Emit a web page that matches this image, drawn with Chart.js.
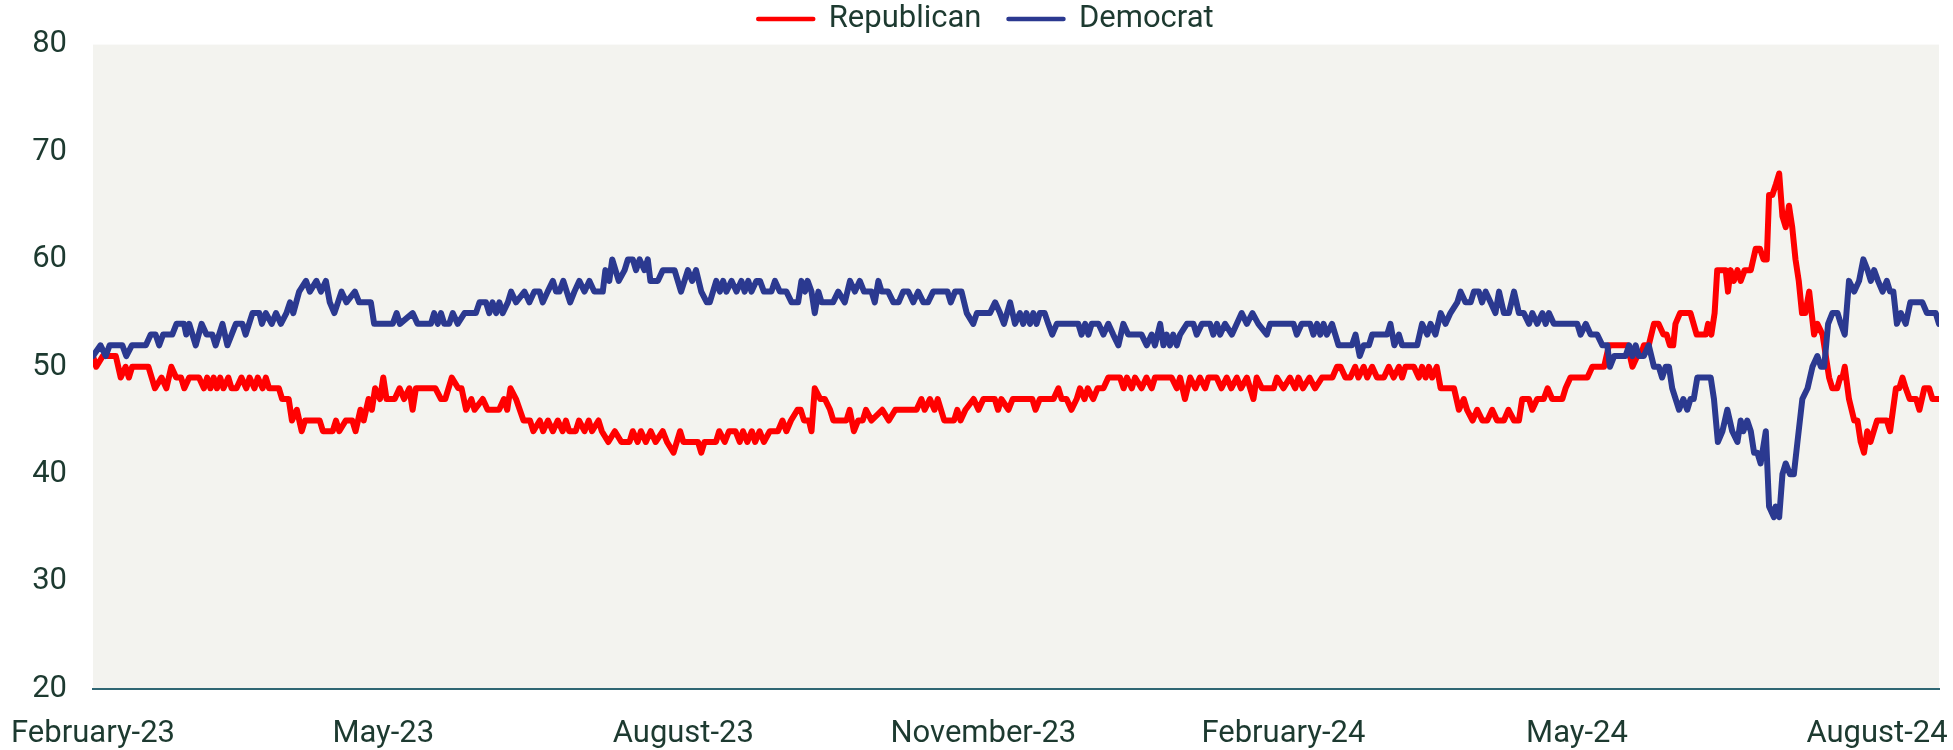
<!DOCTYPE html>
<html>
<head>
<meta charset="utf-8">
<script src="https://cdn.jsdelivr.net/npm/chart.js@4.4.1/dist/chart.umd.min.js"></script>
<style>
  html, body { margin: 0; padding: 0; background: #ffffff; }
  #wrap { width: 1953px; height: 750px; }
</style>
</head>
<body>
<div id="wrap"><canvas id="c" width="1953" height="750"></canvas></div>
<script>
// Days are counted from 1 February 2023 (day 0) to 20 August 2024 (day 566)
const xTickDays = [0, 89, 181, 273, 365, 455, 547];
const xTickLabels = ['February-23', 'May-23', 'August-23', 'November-23', 'February-24', 'May-24', 'August-24'];
const seriesNames = ['Republican', 'Democrat'];

// [day, value]
const republican = [
[0,51],[1,50],[3,51],[7,51],[8.5,49],[10,50],[11,49],[12,50],[17,50],[18,49],[19,48],[21,49],[22.5,48],[24,50],[25.5,49],[27,49],[28,48],[29.5,49],[32.5,49],[34,48],[35,49],[36,48],[37,49],[38,48],[39,49],[40,48],[41.5,49],[42.5,48],[44,48],[45.5,49],[47,48],[48,49],[49.5,48],[50.5,49],[52,48],[53,49],[54,48],[57,48],[58,47],[60,47],[61,45],[62.5,46],[64,44],[65,45],[69.5,45],[70.5,44],[73.5,44],[74.5,45],[75.5,44],[77.5,45],[79.5,45],[80.5,44],[82,46],[83,45],[84.5,47],[85.5,46],[86.5,48],[88,47],[89,49],[90,47],[92.5,47],[94,48],[95.4,47],[97,48],[98,46],[99,48],[105,48],[106.7,47],[108,47],[110,49],[112,48],[113,48],[114.4,46],[116,47],[117,46],[119.5,47],[121,46],[124.5,46],[126,47],[127,46],[128,48],[129.7,47],[132,45],[134,45],[135,44],[137,45],[138,44],[139.5,45],[141,44],[142.5,45],[144,44],[145,45],[146,44],[148,44],[149,45],[150.7,44],[152,45],[153,44],[155,45],[156,44],[158,43],[160,44],[162,43],[164.5,43],[165.5,44],[167,43],[168,44],[169.5,43],[171,44],[172.5,43],[174.7,44],[176,43],[178,42],[179,43],[180,44],[181,43],[185.5,43],[186.5,42],[187.5,43],[191,43],[192,44],[193.7,43],[195,44],[197,44],[198.3,43],[199.3,44],[200.6,43],[202,44],[203,43],[204.4,44],[205.7,43],[207.5,44],[210,44],[211.4,45],[212.6,44],[214,45],[216,46],[217,46],[218,45],[219.5,45],[220.3,44],[221.3,48],[223,47],[224.4,47],[226,46],[227,45],[231,45],[232,46],[233.3,44],[234.6,45],[236,45],[237,46],[238.7,45],[242,46],[244,45],[246,46],[252.5,46],[254,47],[255,46],[256.6,47],[258,46],[259,47],[261,45],[264,45],[265,46],[266,45],[267.5,46],[270,47],[271.5,46],[273,47],[276.5,47],[277.5,46],[278.5,47],[280.7,46],[282,47],[288,47],[289,46],[290.3,47],[294.5,47],[296,48],[297,47],[298.5,47],[300,46],[301.6,47],[302.6,48],[304,47],[305,48],[306.7,47],[308,48],[309.8,48],[311.3,49],[314.9,49],[316,48],[317,49],[318.5,48],[319.5,49],[321.5,48],[323,49],[324.6,48],[325.6,49],[330.7,49],[332.3,48],[333.3,49],[334.8,47],[336.4,49],[338,48],[339.4,49],[341,48],[342,49],[344.5,49],[346,48],[347.6,49],[349,48],[350.7,49],[352,48],[353.8,49],[355.8,47],[356.8,49],[358.4,48],[362,48],[363,49],[365,48],[367,49],[368.6,48],[369.6,49],[371,48],[373,49],[374.7,48],[376.8,49],[380,49],[381.4,50],[382.5,50],[384,49],[385.5,49],[387,50],[388,49],[389.6,50],[390.7,49],[392.2,50],[393.7,49],[395.8,49],[397.3,50],[398.8,49],[400.4,50],[401.4,49],[402.4,50],[405,50],[406.5,49],[407.5,50],[408.6,49],[409.6,50],[410.6,49],[412,50],[413.2,48],[417.3,48],[418.8,46],[420.3,47],[421.3,46],[423,45],[424.4,46],[426,45],[427.5,45],[429,46],[430.5,45],[432.6,45],[434,46],[435.7,45],[437.2,45],[438.2,47],[440.3,47],[441.3,46],[442.8,47],[444.8,47],[446,48],[447.4,47],[450.5,47],[451.5,48],[453,49],[458.2,49],[459.7,50],[463.3,50],[464.8,52],[470.5,52],[472,50],[473.5,51],[474.5,51],[475.5,52],[477,52],[478.6,54],[480,54],[481.5,53],[482.5,53],[483.5,52],[484.5,52],[485.2,54],[486.6,55],[489.8,55],[491.7,53],[494.5,53],[495.2,54],[496.2,53],[497.2,55],[498,59],[500.6,59],[501.3,57],[502.1,59],[503.1,58],[504.2,59],[505.2,58],[506.4,59],[508.3,59],[509.8,61],[511.1,61],[512.2,60],[513.2,60],[513.9,66],[514.9,66],[516,67],[517,68],[518,64],[519,63],[520,65],[521,63],[522,60],[523,58],[524,55],[525,55],[526.2,57],[527.7,53],[528.7,54],[530.3,53],[531.3,51],[532.3,49],[533.3,48],[534.8,48],[535.7,49],[536.4,49],[537.1,50],[538.4,47],[540,45],[541,45],[542,43],[543,42],[544,44],[545,43],[547,45],[550,45],[551,44],[552.8,48],[553.8,48],[554.8,49],[555.8,48],[557,47],[559,47],[560,46],[561.5,48],[563,48],[564,47],[566,47]
];

const democrat = [
[0,51],[2.3,52],[3.9,51],[5.1,52],[9,52],[10.2,51],[11.9,52],[16.2,52],[17.7,53],[19.2,53],[20.3,52],[21.5,53],[24.3,53],[25.6,54],[27.9,54],[28.6,53],[29.5,54],[31.5,52],[33.3,54],[34.8,53],[36.6,53],[37.6,52],[39.7,54],[41.2,52],[43.8,54],[45.8,54],[46.8,53],[48.9,55],[51,55],[51.8,54],[53,55],[54.8,54],[56.1,55],[57.6,54],[59.3,55],[60.4,56],[61.4,55],[63.2,57],[65.3,58],[66.5,57],[68.5,58],[69.9,57],[71.4,58],[72.6,56],[74,55],[76.2,57],[77.7,56],[80.3,57],[81.6,56],[85.2,56],[86.2,54],[91.9,54],[93.1,55],[94.1,54],[98,55],[99.5,54],[103.6,54],[104.6,55],[105.7,54],[106.7,55],[107.7,54],[109.2,54],[110.3,55],[111.8,54],[113.9,55],[117.4,55],[118.5,56],[120.5,56],[121.5,55],[122.5,56],[123.6,55],[124.6,56],[125.6,55],[127.2,56],[128.2,57],[129.7,56],[132.3,57],[133.8,56],[135.3,57],[136.9,57],[137.9,56],[139.4,57],[141,58],[142,57],[143,57],[144.2,58],[146.3,56],[147.6,57],[149.1,58],[150.7,57],[152.2,58],[153.7,57],[156.3,57],[157.1,59],[158.3,58],[159.2,60],[161.2,58],[163,59],[164,60],[165.5,60],[166.5,59],[167.6,60],[169.1,59],[170.1,60],[170.9,58],[173.2,58],[174.7,59],[178.3,59],[180.3,57],[182.4,59],[183.7,58],[184.9,59],[186.5,57],[188.2,56],[189.1,56],[190.1,57],[191.1,58],[192.2,57],[193.2,58],[194.2,57],[195.8,58],[197.3,57],[198.8,58],[199.8,57],[200.9,58],[201.9,57],[203.4,58],[204.5,58],[205.7,57],[208,57],[209.1,58],[210.6,57],[212.6,57],[214.2,56],[216.2,56],[217.2,58],[218.3,57],[219.1,58],[220.3,57],[221.3,55],[222.4,57],[223.4,56],[226.9,56],[228.5,57],[230.5,56],[232.1,58],[233.6,57],[235.1,58],[236.4,57],[238.7,57],[239.7,56],[240.8,58],[241.8,57],[243.8,57],[245.4,56],[247,56],[248.4,57],[250,57],[251.5,56],[253,57],[254.6,56],[256,56],[257.6,57],[262,57],[263,56],[264.3,57],[266.3,57],[267.9,55],[269.9,54],[271,55],[275,55],[276.6,56],[278.1,55],[279.3,54],[281.2,56],[282.7,54],[284.2,55],[285.2,54],[286.2,55],[287.3,54],[288.3,55],[289.3,54],[290.3,55],[291.8,55],[292.9,54],[294.1,53],[295.5,54],[302.1,54],[303.1,53],[304.2,54],[305.2,53],[306.2,54],[308.3,54],[309.8,53],[311.3,54],[312.8,53],[314.4,52],[315.9,54],[317.4,53],[321.5,53],[323.1,52],[324.6,53],[325.6,52],[327.2,54],[328.2,52],[329.2,53],[330.2,52],[331.2,53],[332.3,52],[333.3,53],[335.4,54],[337.4,54],[338.4,53],[340,54],[342.5,54],[343.5,53],[344.6,54],[345.6,53],[347.1,54],[349.2,53],[350.7,54],[352.2,55],[353.8,54],[355.5,55],[357.3,54],[359.9,53],[360.9,54],[368.1,54],[369.1,53],[370.6,54],[373.2,54],[374.2,53],[375.3,54],[376.3,53],[377.3,54],[378.3,53],[379.9,54],[380.9,53],[381.9,52],[386,52],[387.1,53],[388.4,51],[389.6,52],[391.2,52],[392.2,53],[396.8,53],[397.8,54],[399,52],[400.4,53],[401.4,52],[406,52],[407.5,54],[409.1,53],[410.1,54],[411.6,53],[413.2,55],[414.7,54],[416.2,55],[418.3,56],[419.3,57],[420.8,56],[422.4,56],[423.4,57],[424.9,57],[425.9,56],[427,57],[428.5,56],[430,55],[431.1,57],[432.6,55],[434.1,55],[435.7,57],[437.2,55],[438.7,55],[440.3,54],[441.3,55],[442.8,54],[444.4,55],[445.4,54],[446.4,55],[447.9,54],[455.1,54],[456.1,53],[457.7,54],[459.2,53],[461.2,53],[462.8,52],[464.3,52],[465.1,50],[466.4,51],[469.9,51],[471,52],[472,51],[473,52],[474,51],[475.5,51],[477,52],[478.6,50],[480.1,50],[481.1,49],[482.2,50],[483.2,50],[484.2,48],[486.3,46],[487.6,47],[488.8,46],[489.8,47],[490.8,47],[491.9,49],[496,49],[497,47],[498.2,43],[499.6,44],[501.1,46],[502.6,44],[504.2,43],[505.2,45],[506,44],[507.2,45],[508.3,44],[509.3,42],[510.3,42],[511.3,41],[512.9,44],[513.9,37],[515.4,36],[515.9,37],[517,36],[518,40],[519,41],[520.3,40],[521.5,40],[522.6,43],[524.1,47],[525.7,48],[527.2,50],[528.7,51],[529.8,50],[530.8,50],[532,54],[533.3,55],[534.9,55],[535.9,54],[537.1,53],[538.4,58],[540,57],[541.5,58],[542.8,60],[544.1,59],[545.1,58],[546.1,59],[547.3,58],[548.7,57],[550,58],[551,57],[552,57],[553.1,54],[554.3,55],[555.8,54],[557.2,56],[560.9,56],[562.3,55],[565,55],[566,54]
];

const yTicks = [20, 30, 40, 50, 60, 70, 80];

const FONT = 'Roboto, "Open Sans", "DejaVu Sans", sans-serif';
const TEXT = '#1d3a30';

const plotBg = {
  id: 'plotBg',
  beforeDraw(chart) {
    const {ctx, chartArea: a} = chart;
    ctx.save();
    ctx.fillStyle = '#F3F3EF';
    ctx.fillRect(a.left, a.top, a.right - a.left, a.bottom - a.top);
    ctx.restore();
  }
};

const toXY = arr => arr.map(p => ({x: p[0], y: p[1]}));

new Chart(document.getElementById('c'), {
  type: 'line',
  data: {
    datasets: [
      {
        label: seriesNames[0],
        data: toXY(republican),
        borderColor: '#FF0000',
        backgroundColor: '#FF0000',
        borderWidth: 6,
        pointRadius: 0,
        tension: 0,
        borderJoinStyle: 'round',
        borderCapStyle: 'round',
        order: 1
      },
      {
        label: seriesNames[1],
        data: toXY(democrat),
        borderColor: '#2B3990',
        backgroundColor: '#2B3990',
        borderWidth: 6,
        pointRadius: 0,
        tension: 0,
        borderJoinStyle: 'round',
        borderCapStyle: 'round',
        order: 0
      }
    ]
  },
  options: {
    responsive: false,
    animation: false,
    devicePixelRatio: 1,
    layout: { padding: { left: 33, right: 14, top: -27, bottom: 0 } },
    plugins: {
      tooltip: { enabled: false },
      legend: {
        position: 'top',
        labels: {
          usePointStyle: true,
          pointStyle: 'line',
          pointStyleWidth: 55,
          padding: 27,
          color: TEXT,
          font: { family: FONT, size: 31 },
          generateLabels: (chart) => Chart.defaults.plugins.legend.labels.generateLabels(chart)
            .map(item => Object.assign(item, { lineWidth: 4.5, lineCap: 'round' })),
          sort: (a, b) => a.datasetIndex - b.datasetIndex
        }
      }
    },
    scales: {
      x: {
        type: 'linear',
        min: 0,
        max: 566,
        afterBuildTicks: (scale) => { scale.ticks = xTickDays.map(v => ({ value: v })); },
        afterFit: (scale) => { scale.paddingLeft = 0; scale.paddingRight = 0; scale.height = 61; },
        grid: { display: false, drawTicks: false },
        border: { display: true, color: '#2F6673', width: 2 },
        ticks: {
          autoSkip: false,
          maxRotation: 0,
          padding: 27,
          color: TEXT,
          font: { family: FONT, size: 31 },
          callback: (v) => { const i = xTickDays.indexOf(v); return i >= 0 ? xTickLabels[i] : ''; }
        }
      },
      y: {
        type: 'linear',
        min: 20,
        max: 80,
        afterBuildTicks: (scale) => { scale.ticks = yTicks.map(v => ({ value: v })); },
        afterFit: (scale) => { scale.width = 60; },
        grid: { display: false, drawTicks: false },
        border: { display: false },
        ticks: {
          padding: 26,
          color: TEXT,
          font: { family: FONT, size: 31 }
        }
      }
    }
  },
  plugins: [plotBg]
});
</script>
</body>
</html>
